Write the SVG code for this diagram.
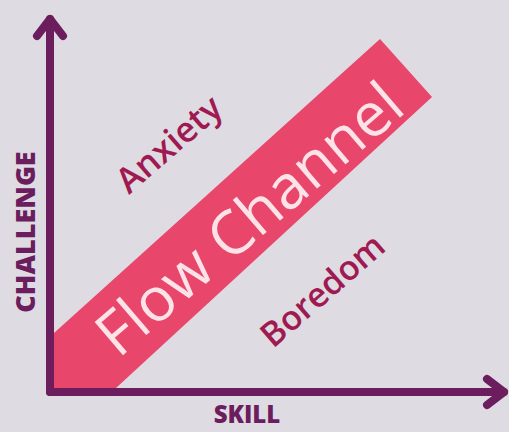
<svg xmlns="http://www.w3.org/2000/svg" width="509" height="432" viewBox="0 0 509 432">
<style>
.axis{fill:none;stroke:#6c1d5e;stroke-width:8;stroke-linecap:round;stroke-linejoin:round}
.axlabel{font-family:"Open Sans","Liberation Sans",sans-serif;font-weight:800;fill:#6c1d5e}
.zone{font-family:"Open Sans","Liberation Sans",sans-serif;font-weight:600;fill:#a01a52}
.flow{font-family:"Open Sans","Liberation Sans",sans-serif;font-weight:400;font-size:61px;fill:#fde2e8}
</style>
<rect width="509" height="432" fill="#dedce2"/>
<g id="flow-channel">
<polygon points="54,333 380,39 432,97 116,388 54,388" fill="#e8466b"/>
<text class="flow" x="263" y="235" text-anchor="middle" transform="rotate(-40.6 263 235)">Flow Channel</text>
</g>
<g id="connectors">
<polyline class="axis" points="50,392 50,19"/>
<polyline class="axis" points="37,36 50,19 63,36"/>
<polyline class="axis" points="50,392 504,392"/>
<polyline class="axis" points="487,379 504,392 487,405"/>
</g>
<g id="anxiety">
<text class="zone" font-size="35" x="129" y="195" transform="rotate(-41 129 195)">Anxiety</text>
</g>
<g id="boredom">
<text class="zone" font-size="34" x="273" y="349" transform="rotate(-41 273 349)">Boredom</text>
</g>
<g id="challenge-label">
<text class="axlabel" font-size="27" x="35" y="232" text-anchor="middle" transform="rotate(-90 35 232)">CHALLENGE</text>
</g>
<g id="skill-label">
<text class="axlabel" font-size="24" x="247" y="423" text-anchor="middle">SKILL</text>
</g>
</svg>
